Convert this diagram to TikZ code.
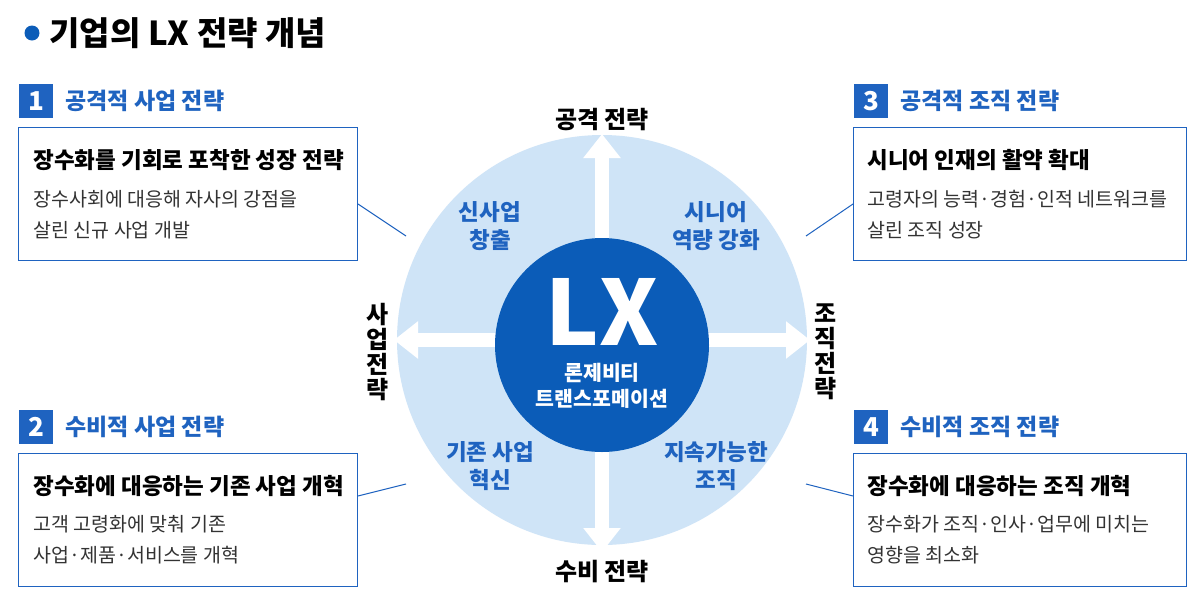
\documentclass[tikz,border=0pt]{standalone}
\usepackage{fontspec}
\setmainfont{Noto Sans CJK KR}
\usetikzlibrary{arrows.meta}
\definecolor{mblue}{HTML}{1F63C0}
\definecolor{dblue}{HTML}{0B5CB8}
\definecolor{lblue}{HTML}{CFE4F7}
\definecolor{gtxt}{HTML}{333333}
\begin{document}
\begin{tikzpicture}[x=1pt,y=-1pt,
  box/.style={draw=mblue,line width=1pt,fill=white,minimum width=339pt,minimum height=133pt,anchor=north west},
  badge/.style={fill=mblue,text=white,minimum size=34pt,inner sep=0pt,font=\bfseries\fontsize{26}{26}\selectfont},
  hd/.style={text=mblue,anchor=west,font=\bfseries\fontsize{23}{23}\selectfont},
  bt/.style={anchor=west,font=\bfseries\fontsize{22.5}{22.5}\selectfont,text=black},
  bb/.style={anchor=north west,align=left,text=gtxt,font=\fontsize{19.5}{31}\selectfont},
  ql/.style={text=mblue,align=center,font=\bfseries\fontsize{22.5}{28}\selectfont},
  dl/.style={text=black,align=center,font=\bfseries\fontsize{24}{28}\selectfont},
  vl/.style={text=black,align=center,text width=26pt,font=\bfseries\fontsize{24}{25}\selectfont},
  wa/.style={draw=white,line width=14pt,-{Triangle[width=36pt,length=24pt]}},
  con/.style={draw=mblue,line width=1pt}]
\useasboundingbox (0,0) rectangle (1199,611);
\fill[white] (0,0) rectangle (1199,611);
% title
\fill[dblue] (32,33) circle (7.5);
\node[anchor=west,font=\bfseries\fontsize{33}{33}\selectfont] (title) at (46,33) {기업의 LX 전략 개념};
% circles
\node[circle,fill=lblue,minimum size=410pt,inner sep=0pt] (big) at (602,340) {};
\draw[wa] (602,340) -- (602,134);
\draw[wa] (602,340) -- (602,552);
\draw[wa] (602,340) -- (394,340);
\draw[wa] (602,340) -- (810,340);
\node[circle,fill=dblue,minimum size=214pt,inner sep=0pt] (core) at (602,345) {};
\node[text=white,font=\bfseries\fontsize{90}{90}\selectfont] (lx) at (602,312) {LX};
\node[text=white,align=center,font=\bfseries\fontsize{20.5}{26}\selectfont] (lxs) at (602,386) {론제비티\\트랜스포메이션};
% direction labels
\node[dl] (up) at (602,120) {공격 전략};
\node[dl] (dn) at (602,572) {수비 전략};
\node[vl] (lf) at (378,352) {사\\업\\전\\략};
\node[vl] (rt) at (826,352) {조\\직\\전\\략};
% quadrant labels
\node[ql] (q1) at (490,226) {신사업\\창출};
\node[ql] (q2) at (716,226) {시니어\\역량 강화};
\node[ql] (q3) at (490,466) {기존 사업\\혁신};
\node[ql] (q4) at (716,466) {지속가능한\\조직};
% boxes
\node[box] (b1) at (18,127) {};
\node[box] (b2) at (18,453) {};
\node[box,minimum width=333pt] (b3) at (853,127) {};
\node[box,minimum width=333pt] (b4) at (853,453) {};
\node[badge] (n1) at (36,101) {1}; \node[hd] (h1) at (62,101) {공격적 사업 전략};
\node[badge] (n2) at (36,427) {2}; \node[hd] (h2) at (62,427) {수비적 사업 전략};
\node[badge] (n3) at (871,101) {3}; \node[hd] (h3) at (897,101) {공격적 조직 전략};
\node[badge] (n4) at (871,427) {4}; \node[hd] (h4) at (897,427) {수비적 조직 전략};
\node[bt] (t1) at (30,160) {장수화를 기회로 포착한 성장 전략};
\node[bb] (c1) at (30,187) {장수사회에 대응해 자사의 강점을\\살린 신규 사업 개발};
\node[bt] (t2) at (30,486) {장수화에 대응하는 기존 사업 개혁};
\node[bb] (c2) at (30,512) {고객 고령화에 맞춰 기존\\사업·제품·서비스를 개혁};
\node[bt] (t3) at (864,160) {시니어 인재의 활약 확대};
\node[bb] (c3) at (864,187) {고령자의 능력·경험·인적 네트워크를\\살린 조직 성장};
\node[bt] (t4) at (864,486) {장수화에 대응하는 조직 개혁};
\node[bb] (c4) at (864,512) {장수화가 조직·인사·업무에 미치는\\영향을 최소화};
% connectors
\coordinate (e1) at (406,236); \coordinate (e2) at (406,484);
\coordinate (e3) at (806,236); \coordinate (e4) at (806,484);
\draw[con] (b1.east) ++(0,10) -- (e1);
\draw[con] (b2.east) ++(0,-24) -- (e2);
\draw[con] (b3.west) ++(0,10) -- (e3);
\draw[con] (b4.west) ++(0,-24) -- (e4);
\end{tikzpicture}
\end{document}
